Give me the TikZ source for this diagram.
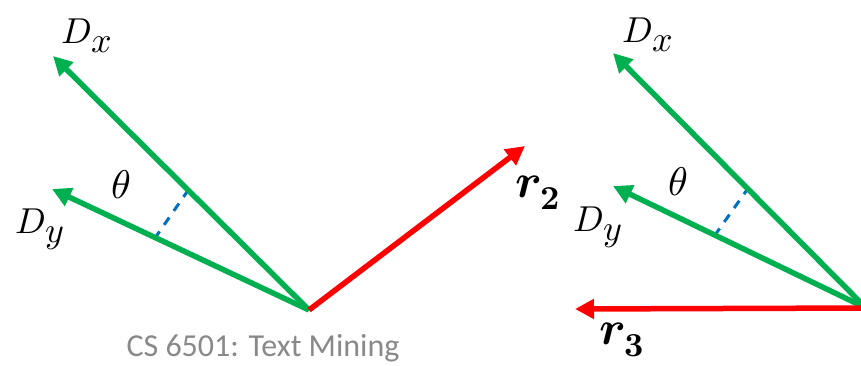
\documentclass[tikz,border=0pt]{standalone}
\usepackage{amsmath}
\usepackage{fontspec}
\usepackage{unicode-math}
\setmathfont{Latin Modern Math}
\usepackage{tikz}
\usetikzlibrary{arrows.meta,positioning,calc}
\newfontfamily\slidefont{Carlito}
\definecolor{vecgreen}{HTML}{00B050}
\definecolor{vecred}{HTML}{FF0000}
\definecolor{gapblue}{HTML}{0070C0}
\definecolor{footgray}{HTML}{898989}

\begin{document}
\begin{tikzpicture}[
  x=1pt, y=-1pt,
  docvec/.style={-{Triangle[length=19pt, width=19pt]}, line width=5.5pt, draw=vecgreen},
  qvec/.style={-{Triangle[length=19pt, width=19pt]}, line width=5.5pt, draw=vecred},
  gap/.style={line width=3pt, draw=gapblue, dash pattern=on 9pt off 8pt, dash phase=1pt},
  lbl/.style={inner sep=0pt, font=\fontsize{36}{38}\selectfont},
  anglbl/.style={inner sep=0pt, font=\fontsize{40}{42}\selectfont},
  qlbl/.style={inner sep=0pt, font=\fontsize{48}{50}\selectfont}
]
  \useasboundingbox (0,0) rectangle (861,365);
  \clip (0,0) rectangle (861,365);

  % left: r2 away from both documents
  \coordinate (o1) at (309,310);
  \coordinate (dx1) at (53,56);
  \coordinate (dy1) at (52,189);
  \coordinate (r2) at (525,146);
  \coordinate (gy1) at (155,238);
  \coordinate (gx1) at (189,189);

  \draw[gap] (gy1) -- (gx1);
  \draw[docvec] (o1) -- (dx1);
  \draw[docvec] (o1) -- (dy1);
  \draw[qvec] (o1) -- (r2);

  \node[lbl] (dxl1) at (87,36) {$D_{\textstyle x}$};
  \node[lbl] (dyl1) at (40,229) {$D_{\textstyle y}$};
  \node[anglbl] (th1) at (121,185) {$\theta$};
  \node[qlbl] (r2l) at (538,193) {$\symbfit{r}_{\symbf{2}}$};

  % right: r3 pointing left
  \coordinate (o2) at (866,308);
  \coordinate (dx2) at (613,53);
  \coordinate (dy2) at (613,186);
  \coordinate (r3) at (575,309);
  \coordinate (gy2) at (715,235);
  \coordinate (gx2) at (749,187);

  \draw[gap] (gy2) -- (gx2);
  \draw[docvec] (o2) -- (dx2);
  \draw[docvec] (o2) -- (dy2);
  \draw[qvec] (o2) -- (r3);

  \node[lbl] (dxl2) at (648,35) {$D_{\textstyle x}$};
  \node[lbl] (dyl2) at (598,227) {$D_{\textstyle y}$};
  \node[anglbl] (th2) at (678,182) {$\theta$};
  \node[qlbl] (r3l) at (622,340) {$\symbfit{r}_{\symbf{3}}$};

  \node[anchor=base, inner sep=0pt, text=footgray, font=\slidefont\fontsize{32}{34}\selectfont] (foot) at (263,356) {CS 6501: Text Mining};
\end{tikzpicture}
\end{document}
